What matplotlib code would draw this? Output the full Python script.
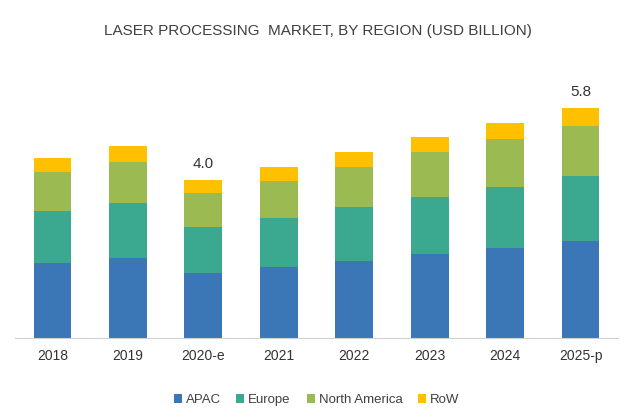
import matplotlib
matplotlib.use('Agg')
import matplotlib.pyplot as plt
import numpy as np

# Data (USD billion)
years = ['2018', '2019', '2020-e', '2021', '2022', '2023', '2024', '2025-p']
apac = [1.88, 2.02, 1.65, 1.79, 1.94, 2.12, 2.27, 2.45]
europe = [1.33, 1.40, 1.15, 1.24, 1.38, 1.46, 1.56, 1.66]
north_america = [1.00, 1.04, 0.88, 0.95, 1.02, 1.13, 1.20, 1.25]
row = [0.34, 0.40, 0.32, 0.34, 0.36, 0.38, 0.41, 0.46]
labelled = {'2020-e': '4.0', '2025-p': '5.8'}

series = [('APAC', apac, '#3b77b7'),
          ('Europe', europe, '#3aa98f'),
          ('North America', north_america, '#9cba52'),
          ('RoW', row, '#ffc000')]

plt.rcParams['font.family'] = ['Liberation Sans', 'DejaVu Sans']

fig = plt.figure(figsize=(6.4, 4.2), dpi=100)
ax = fig.add_axes([0.023, 0.1964, 0.943, 0.661])

x = np.arange(len(years))
bottom = np.zeros(len(years))
for name, vals, color in series:
    ax.bar(x, vals, width=0.5, bottom=bottom, color=color, label=name)
    bottom += np.array(vals)

for i, yr in enumerate(years):
    if yr in labelled:
        ax.text(x[i], bottom[i] + 0.24, labelled[yr], ha='center', va='bottom',
                fontsize=11, color='#333333')

ax.set_xlim(-0.5, len(years) - 0.5)
ax.set_ylim(0, 7.05)
ax.set_xticks(x)
ax.set_xticklabels(years, fontsize=10, color='#333333')
ax.set_yticks([])
ax.tick_params(axis='x', length=0, pad=8)
for s in ['top', 'right', 'left']:
    ax.spines[s].set_visible(False)
ax.spines['bottom'].set_color('#d0d0d0')

fig.text(0.497, 0.925, 'LASER PROCESSING  MARKET, BY REGION (USD BILLION)',
         ha='center', va='center', fontsize=11, color='#404040')

ax.legend(loc='center', bbox_to_anchor=(0.5, -0.225), ncol=4, frameon=False,
          fontsize=9.5, handlelength=0.6, handleheight=0.6, handletextpad=0.3,
          columnspacing=1.2, labelcolor='#404040')

plt.savefig('out.png', dpi=100)
